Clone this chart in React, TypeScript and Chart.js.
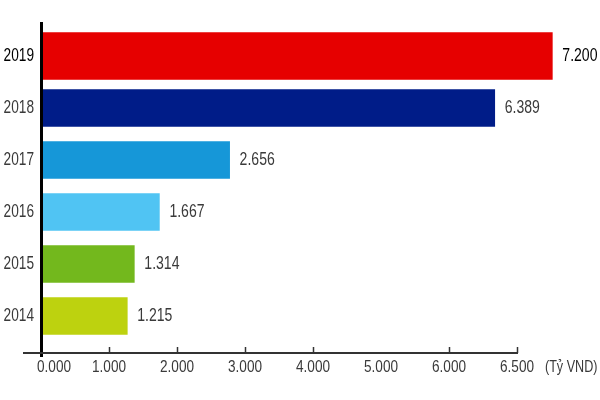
import React, { useEffect, useRef } from 'react';
import { Chart, registerables } from 'chart.js';

Chart.register(...registerables);

const years = ['2019', '2018', '2017', '2016', '2015', '2014'];
const revenue = [7.2, 6.389, 2.656, 1.667, 1.314, 1.215];
const valueLabels = ['7.200', '6.389', '2.656', '1.667', '1.314', '1.215'];
const barColors = ['#e60000', '#001c88', '#1697d8', '#50c4f3', '#73b81d', '#bdd20f'];
const tickLabels = ['0.000', '1.000', '2.000', '3.000', '4.000', '5.000', '6.000', '6.500'];
const unitLabel = '(Tỷ VND)';

const FONT = '"Liberation Sans", Arial, sans-serif';

function narrowText(ctx: any, text: string, x: number, y: number, size: number, sx: number, align: string, color: string) {
  ctx.save();
  ctx.font = size + 'px ' + FONT;
  ctx.fillStyle = color;
  ctx.textBaseline = 'middle';
  ctx.textAlign = align;
  ctx.translate(x, y);
  ctx.scale(sx, 1);
  ctx.fillText(text, 0, 0);
  ctx.restore();
}

const axisPlugin = {
  id: 'customAxes',
  afterDraw(chart: any) {
    const { ctx, chartArea } = chart;
    const x2 = chart.scales.x2;
    const y = chart.scales.y;
    ctx.save();
    // vertical black axis
    ctx.fillStyle = '#000';
    ctx.fillRect(chartArea.left - 1, chartArea.top - 8, 3, chartArea.bottom - chartArea.top + 23);
    // horizontal axis
    const yLine = chartArea.bottom + 11;
    const xEnd = x2.getPixelForValue(tickLabels.length - 1);
    ctx.strokeStyle = '#333';
    ctx.lineWidth = 2;
    ctx.beginPath();
    ctx.moveTo(23, yLine);
    ctx.lineTo(xEnd + 1, yLine);
    ctx.stroke();
    ctx.lineWidth = 1.5;
    for (let i = 1; i < tickLabels.length; i++) {
      if (i === 5) continue;
      const px = Math.round(x2.getPixelForValue(i)) + 0.5;
      ctx.beginPath();
      ctx.moveTo(px, yLine);
      ctx.lineTo(px, yLine - 6);
      ctx.stroke();
    }
    ctx.restore();
    // x tick labels
    tickLabels.forEach((t, i) => {
      const px = x2.getPixelForValue(i) + (i === 0 ? 13 : 0);
      narrowText(ctx, t, px, chartArea.bottom + 25, 17, 0.8, 'center', '#3a3a3a');
    });
    narrowText(ctx, unitLabel, xEnd + 28, chartArea.bottom + 25, 17, 0.74, 'left', '#3a3a3a');
    // y category labels
    years.forEach((yr, i) => {
      narrowText(ctx, yr, chartArea.left - 7, y.getPixelForValue(i), 19, 0.72, 'right', i === 0 ? '#000' : '#3a3a3a');
    });
  },
};

const valuePlugin = {
  id: 'valueLabels',
  afterDatasetsDraw(chart: any) {
    const { ctx } = chart;
    years.forEach((_, i) => {
      const dsIndex = i === 0 ? 1 : 0;
      const el = chart.getDatasetMeta(dsIndex).data[i];
      if (!el) return;
      narrowText(ctx, valueLabels[i], el.x + 10, el.y, 18, 0.78, 'left', i === 0 ? '#000' : '#3a3a3a');
    });
  },
};

export default function App() {
  const canvasRef = useRef<HTMLCanvasElement>(null);

  useEffect(() => {
    document.body.style.margin = '0';
    const canvas = canvasRef.current;
    if (!canvas) return;
    const chart = new Chart(canvas, {
      type: 'bar',
      data: {
        labels: years,
        datasets: [
          {
            data: revenue.map((v, i) => (i === 0 ? null : v)),
            backgroundColor: barColors,
            barThickness: 37,
            xAxisID: 'x',
          },
          {
            data: revenue.map((v, i) => (i === 0 ? v : null)),
            backgroundColor: barColors,
            barThickness: 47,
            xAxisID: 'x',
          },
        ],
      },
      options: {
        indexAxis: 'y',
        animation: false,
        responsive: true,
        maintainAspectRatio: false,
        layout: { padding: { left: 41, right: 15, top: 30, bottom: 58 } },
        plugins: { legend: { display: false }, tooltip: { enabled: false } },
        scales: {
          x: {
            type: 'linear',
            display: false,
            stacked: true,
            min: 0,
            max: 7.66,
          },
          x2: {
            type: 'linear',
            display: false,
            min: 0,
            max: 8,
          },
          y: {
            type: 'category',
            display: false,
            stacked: true,
          },
        },
      },
      plugins: [axisPlugin, valuePlugin],
    });
    return () => chart.destroy();
  }, []);

  return (
    <div style={{ width: 600, height: 400, position: 'relative', background: '#fff' }}>
      <canvas ref={canvasRef} />
    </div>
  );
}
